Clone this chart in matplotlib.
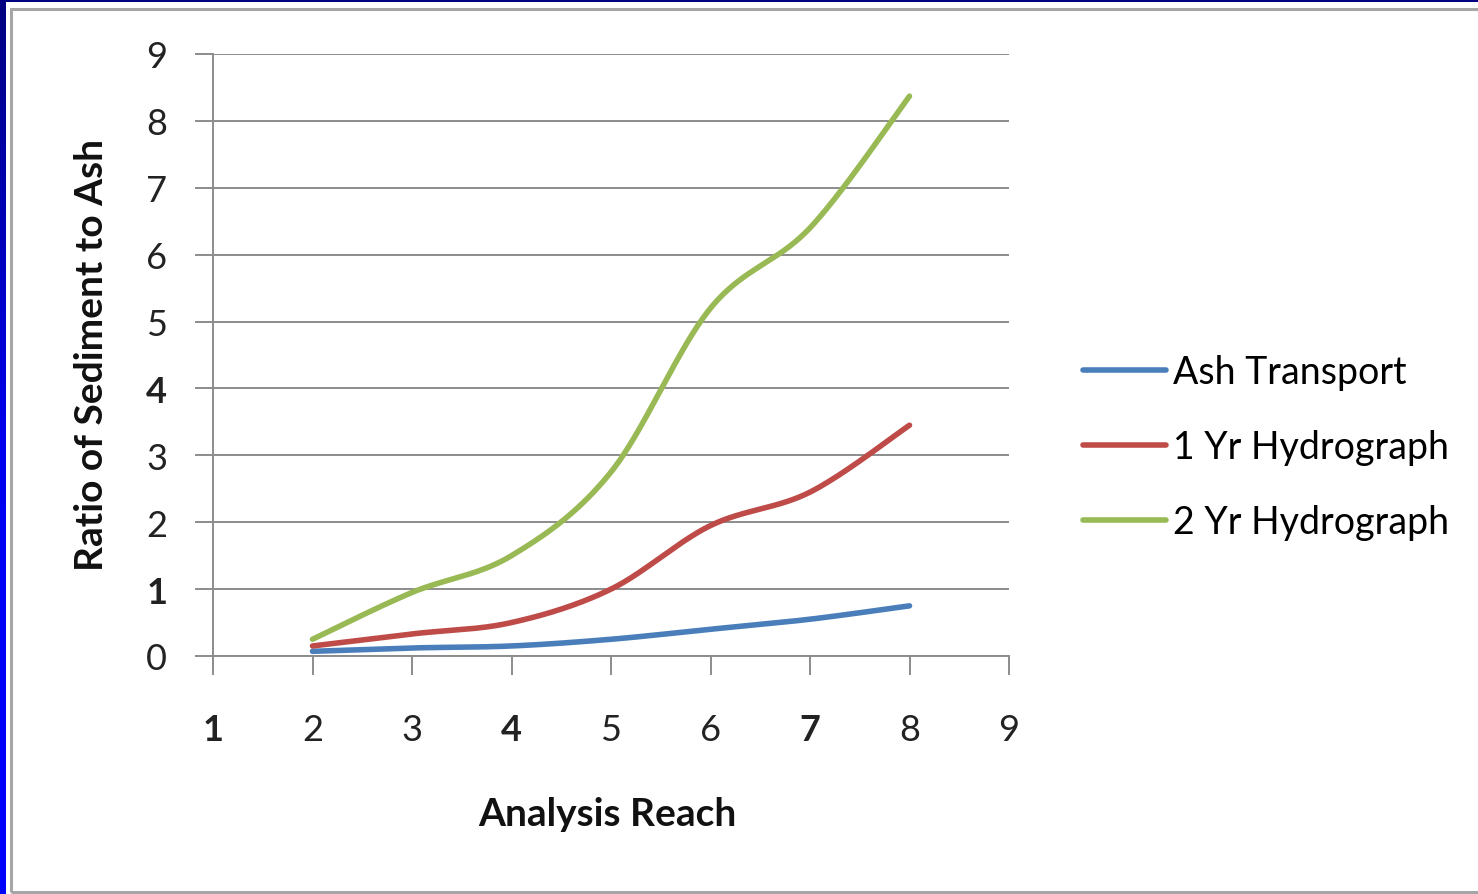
import matplotlib
matplotlib.use('Agg')
import matplotlib.pyplot as plt
from matplotlib.patches import Rectangle
from matplotlib.colors import LinearSegmentedColormap
import numpy as np

# data
reach = [2, 3, 4, 5, 6, 7, 8]
ash_transport = [0.07, 0.12, 0.15, 0.25, 0.40, 0.55, 0.75]
hydro_1yr = [0.15, 0.33, 0.50, 1.00, 1.95, 2.45, 3.45]
hydro_2yr = [0.25, 0.95, 1.50, 2.75, 5.20, 6.40, 8.37]
labels = ["Ash Transport", "1 Yr Hydrograph", "2 Yr Hydrograph"]
colors = ["#4A7EBB", "#BE4B48", "#98B954"]
xticks = [1, 2, 3, 4, 5, 6, 7, 8, 9]
yticks = [0, 1, 2, 3, 4, 5, 6, 7, 8, 9]

plt.rcParams['font.family'] = ['Lato', 'DejaVu Sans']


def smooth(x, y, n=40):
    # excel-like smoothed line: bezier segments with catmull-rom control points
    x = np.asarray(x, float)
    y = np.asarray(y, float)
    px = np.concatenate([[x[0]], x, [x[-1]]])
    py = np.concatenate([[y[0]], y, [y[-1]]])
    xs, ys = [], []
    t = np.linspace(0, 1, n)
    for i in range(1, len(px) - 2):
        p0 = np.array([px[i], py[i]])
        p3 = np.array([px[i + 1], py[i + 1]])
        p1 = p0 + (np.array([px[i + 1], py[i + 1]]) - np.array([px[i - 1], py[i - 1]])) / 6
        p2 = p3 - (np.array([px[i + 2], py[i + 2]]) - np.array([px[i], py[i]])) / 6
        pts = ((1 - t) ** 3)[:, None] * p0 + (3 * (1 - t) ** 2 * t)[:, None] * p1 \
            + (3 * (1 - t) * t ** 2)[:, None] * p2 + (t ** 3)[:, None] * p3
        xs.extend(pts[:, 0])
        ys.extend(pts[:, 1])
    return xs, ys


fig = plt.figure(figsize=(14.78, 8.95), dpi=100)
fig.patch.set_facecolor('white')

# slide border: gradient strip on the left, navy strip on top, grey frame
strip = fig.add_axes([0, 0, 6 / 1478, 1])
cmap = LinearSegmentedColormap.from_list('edge', ['#000080', '#0000F0', '#0000FF'])
strip.imshow(np.linspace(0, 1, 200)[:, None], aspect='auto', cmap=cmap)
strip.axis('off')
fig.patches.append(Rectangle((0, 1 - 3 / 895), 1, 3 / 895, transform=fig.transFigure,
                             facecolor='#000080', edgecolor='none', zorder=0))
fig.patches.append(Rectangle((11 / 1478, 2.5 / 895), 1.0, 1 - 12.5 / 895,
                             transform=fig.transFigure, facecolor='none',
                             edgecolor='#a6a6a6', linewidth=2.2, zorder=1))

ax = fig.add_axes([213 / 1478, 1 - 657 / 895, 796 / 1478, 602 / 895])
for vals, lab, c in zip([ash_transport, hydro_1yr, hydro_2yr], labels, colors):
    sx, sy = smooth(reach, vals)
    ax.plot(sx, sy, color=c, linewidth=4.0, solid_capstyle='round', label=lab, zorder=3)

ax.set_xlim(1, 9)
ax.set_ylim(0, 9)
ax.set_xticks(xticks)
ax.set_yticks(yticks)
ax.yaxis.grid(True, color='#8c8c8c', linewidth=1.4)
ax.set_axisbelow(True)
for s in ['top', 'right']:
    ax.spines[s].set_visible(False)
for s in ['left', 'bottom']:
    ax.spines[s].set_color('#8c8c8c')
    ax.spines[s].set_linewidth(1.4)
ax.tick_params(axis='x', direction='out', length=14, width=1.4, color='#8c8c8c',
               pad=27, labelsize=26, labelcolor='#222222')
ax.tick_params(axis='y', direction='out', length=13, width=1.4, color='#8c8c8c',
               pad=20, labelsize=26, labelcolor='#222222')
for lbl in ax.get_xticklabels():
    if lbl.get_text() in ('1', '4', '7'):
        lbl.set_fontweight('bold')
for lbl in ax.get_yticklabels():
    if lbl.get_text() in ('1', '4'):
        lbl.set_fontweight('bold')

fig.text(92 / 1478, 1 - 355 / 895, "Ratio of Sediment to Ash", rotation=90,
         ha='center', va='center', fontsize=28, fontweight='bold', color='#111111')
fig.text(607 / 1478, 1 - 815 / 895, "Analysis Reach", ha='center', va='center',
         fontsize=28, fontweight='bold', color='#111111')

handles, labs = ax.get_legend_handles_labels()
fig.legend(handles, labs, loc='center left', bbox_to_anchor=(1083 / 1478, 1 - 448 / 895),
           frameon=False, fontsize=27, handlelength=2.2, handletextpad=0.2,
           labelspacing=1.05, borderpad=0, borderaxespad=0)

fig.savefig('out.png', dpi=100, facecolor='white')
